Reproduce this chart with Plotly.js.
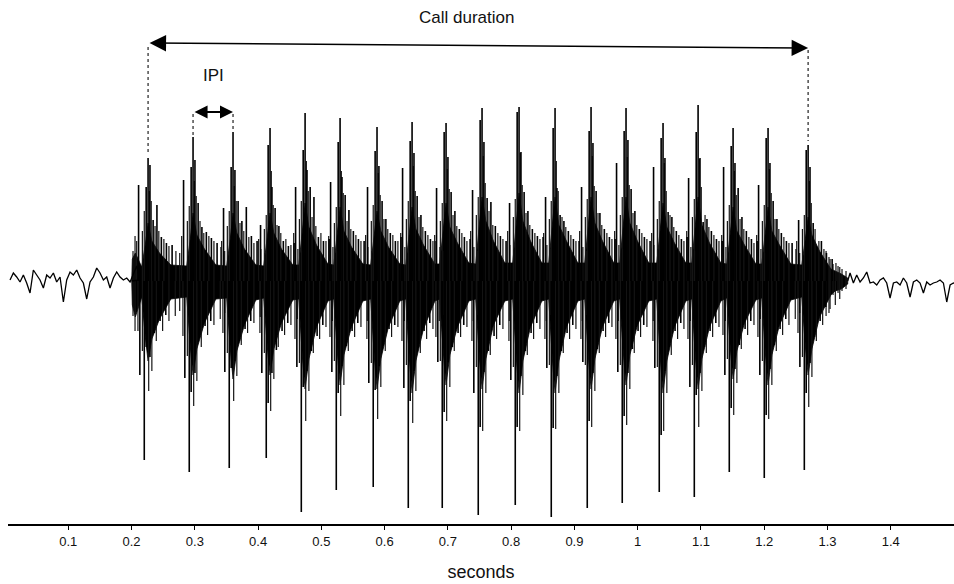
<!DOCTYPE html>
<html>
<head>
<meta charset="utf-8">
<script src="https://cdn.plot.ly/plotly-3.0.1.min.js"></script>
<style>html,body{margin:0;padding:0;background:#fff;}#chart{width:954px;height:584px;}</style>
</head>
<body>
<div id="chart"></div>
<script>
// ---- data (time in seconds, amplitude in arbitrary units) ----
const tickVals = [0.1,0.2,0.3,0.4,0.5,0.6,0.7,0.8,0.9,1.0,1.1,1.2,1.3,1.4];
const tickText = ["0.1","0.2","0.3","0.4","0.5","0.6","0.7","0.8","0.9","1","1.1","1.2","1.3","1.4"];

// main pulse times (positive peak)
const pulseT = [0.2261,0.2972,0.3604,0.4189,0.4743,0.5296,0.5880,0.6434,0.6971,0.7540,
                0.8125,0.8694,0.9263,0.9816,1.0401,1.0955,1.1508,1.2061,1.2694];

// major spikes within each pulse: offsets in ms relative to pulse peak
const posOff = [-15,-3,0,3,8,14,21,29,38];
const posAmp = [
 [96,94,123,116,61,76,44,38,36],
 [101,114,144,121,78,54,49,43,38],
 [73,114,149,111,80,60,74,45,40],
 [56,136,153,94,73,55,40,35,38],
 [94,131,168,111,94,84,44,40,42],
 [99,139,163,104,86,71,50,42,40],
 [94,130,154,115,80,62,48,40,44],
 [113,140,159,128,85,66,50,42,40],
 [93,149,158,124,89,70,52,44,42],
 [91,161,173,139,83,79,55,45,40],
 [78,169,174,129,89,70,52,45,44],
 [84,153,173,93,66,60,50,42,40],
 [94,150,174,138,90,68,52,44,42],
 [118,150,173,141,92,70,52,44,40],
 [114,143,158,123,69,64,50,42,44],
 [103,149,176,123,59,62,50,42,40],
 [114,135,153,118,93,64,50,42,40],
 [96,143,153,118,80,62,48,40,38],
 [61,131,136,114,58,34,40,28,22]
];
const negOff = [-13,-6,-3,3,10,19,28];
const negAmp = [
 [-94,-179,-66,-76,-52,-40,-34],
 [-97,-191,-111,-92,-52,-45,-40],
 [-91,-187,-87,-80,-60,-48,-40],
 [-92,-177,-122,-92,-69,-50,-42],
 [-86,-231,-106,-90,-70,-55,-44],
 [-91,-209,-112,-85,-65,-50,-42],
 [-102,-206,-109,-85,-62,-48,-44],
 [-107,-227,-120,-90,-66,-50,-42],
 [-81,-227,-131,-81,-66,-52,-44],
 [-112,-234,-146,-91,-70,-55,-44],
 [-99,-224,-146,-95,-70,-52,-42],
 [-87,-236,-147,-95,-70,-52,-44],
 [-81,-227,-140,-92,-68,-50,-42],
 [-91,-222,-135,-92,-68,-50,-44],
 [-87,-211,-154,-90,-66,-50,-42],
 [-106,-216,-114,-92,-66,-50,-42],
 [-94,-191,-127,-88,-64,-48,-40],
 [-94,-197,-134,-88,-64,-48,-38],
 [-86,-189,-112,-82,-56,-40,-26]
];

// minor spikes within each pulse
const minorPosOff = [-18,-9,-6,2,5,11,17,25,33,44,50];
const minorPos = [
 [40,50,70,90,80,55,50,42,35,30,28],
 [45,60,75,100,85,60,48,45,40,34,30],
 [40,55,70,95,80,58,50,44,38,32,28],
 [42,52,66,110,76,56,48,42,36,32,30],
 [48,62,80,120,90,64,55,48,40,34,30],
 [45,58,74,110,88,60,52,46,40,34,30],
 [46,60,76,108,86,62,52,46,40,34,30],
 [48,62,80,115,90,64,54,46,40,34,30],
 [46,60,78,112,92,66,55,48,40,34,30],
 [50,66,84,125,98,70,56,48,42,36,32],
 [50,64,82,128,96,68,56,48,42,36,32],
 [48,62,80,120,90,64,54,46,40,34,30],
 [50,64,82,125,95,68,56,48,42,36,32],
 [50,66,84,124,96,68,56,48,42,36,32],
 [48,62,80,118,90,66,54,46,40,34,30],
 [50,64,82,122,94,66,54,46,40,34,30],
 [46,60,76,110,86,62,52,44,38,32,28],
 [46,60,76,112,88,62,52,44,38,32,28],
 [40,52,66,100,78,52,40,32,24,18,14]
];
const minorNegOff = [-16,-9,1,6,13,23,33,43,50];
const minorNeg = [
 [-50,-70,-110,-90,-60,-50,-40,-35,-30],
 [-55,-75,-125,-100,-66,-54,-44,-38,-32],
 [-52,-72,-120,-95,-64,-52,-42,-36,-30],
 [-52,-72,-130,-98,-66,-54,-44,-38,-32],
 [-58,-82,-140,-110,-72,-58,-46,-40,-34],
 [-56,-80,-135,-104,-70,-56,-46,-40,-34],
 [-58,-82,-138,-106,-70,-56,-46,-40,-34],
 [-60,-84,-142,-110,-72,-58,-48,-40,-34],
 [-56,-80,-140,-106,-70,-56,-46,-40,-34],
 [-60,-86,-150,-112,-74,-58,-48,-40,-34],
 [-60,-86,-150,-114,-74,-58,-48,-40,-34],
 [-58,-84,-148,-112,-72,-58,-48,-40,-34],
 [-58,-84,-146,-110,-72,-56,-46,-40,-34],
 [-58,-84,-144,-108,-72,-56,-46,-40,-34],
 [-60,-86,-150,-112,-74,-58,-48,-40,-34],
 [-58,-84,-146,-110,-72,-56,-46,-40,-34],
 [-54,-78,-134,-102,-68,-54,-44,-38,-32],
 [-56,-80,-138,-104,-70,-54,-44,-38,-32],
 [-52,-76,-126,-96,-60,-44,-32,-24,-18]
];

// dense core envelope of each pulse (offsets in ms)
const envOff = [-10,-4,0,6,18,36];
const envHi = [
 [14,38,58,40,28,16],[15,44,68,46,32,16],[15,44,68,48,32,16],[15,46,68,48,32,16],
 [16,52,78,54,36,17],[16,50,74,50,34,17],[16,48,70,50,34,17],[16,50,74,52,36,17],
 [17,54,78,54,38,18],[17,58,84,60,40,18],[18,60,88,60,40,18],[18,58,84,56,40,18],
 [18,58,84,58,40,18],[18,58,84,58,40,18],[18,54,78,54,38,18],[18,58,84,56,38,18],
 [17,50,74,50,36,17],[17,50,74,50,36,17],[16,44,64,46,30,12]
];
const envLo = [
 [-16,-58,-80,-58,-38,-18],[-16,-68,-94,-68,-42,-18],[-17,-70,-98,-70,-44,-19],[-17,-68,-94,-68,-42,-19],
 [-18,-78,-108,-78,-46,-20],[-18,-74,-104,-74,-46,-20],[-18,-78,-108,-78,-46,-20],[-18,-80,-112,-80,-48,-20],
 [-18,-74,-104,-74,-46,-20],[-18,-78,-108,-78,-44,-20],[-18,-80,-112,-80,-46,-20],[-18,-80,-112,-80,-46,-20],
 [-18,-78,-108,-78,-46,-20],[-18,-74,-104,-74,-44,-20],[-18,-80,-112,-80,-46,-20],[-18,-78,-108,-78,-46,-20],
 [-17,-70,-98,-70,-42,-19],[-17,-74,-104,-74,-44,-19],[-16,-68,-94,-68,-36,-14]
];

// call onset and decay (absolute times)
const onsetT  = [0.2003,0.2012,0.2060];
const onsetHi = [0,22,28];
const onsetLo = [0,-24,-36];
const tailT   = [1.3120,1.3220,1.3320];
const tailHi  = [10,7,3];
const tailLo  = [-10,-8,-3];

// extra spikes at call onset and in the decay
const extraT = [0.2023,0.2023,0.2055,0.2055,1.2978,1.2978,1.3041,1.3041,1.3088,1.3088,1.3167,1.3167,1.3230,1.3230,1.3293,1.3293];
const extraA = [30,-35,45,-50,30,-35,22,-28,17,-14,15,-12,12,-10,10,-8];

// background noise before and after the call
const preStart = 0.0079, noiseStep = 0.00527;
const preNoise = [1,8,4,-1,6,-2,-12,11,6,1,-7,6,3,8,-1,4,-21,1,9,6,11,3,-2,-18,-1,4,13,8,1,4,-7,3,9,4,1,3,-1,8,15,1];
const postStart = 1.3357;
const postNoise = [8,-2,6,-1,3,9,-2,-1,-4,1,3,-2,-17,-2,-1,-4,3,-2,-16,-1,1,-2,-12,-1,-4,-2,-1,1,-2,-21,-4,-2,-4];

// ---- build traces ----
const ms = 0.001;
const upX = [], upY = [], loX = [], loY = [];
onsetT.forEach((t,i)=>{upX.push(t);upY.push(onsetHi[i]);loX.push(t);loY.push(onsetLo[i]);});
pulseT.forEach((T,p)=>{
  envOff.forEach((o,i)=>{
    upX.push(T+o*ms); upY.push(envHi[p][i]);
    loX.push(T+o*ms); loY.push(envLo[p][i]);
  });
});
tailT.forEach((t,i)=>{upX.push(t);upY.push(tailHi[i]);loX.push(t);loY.push(tailLo[i]);});
const coreX = upX.concat(loX.slice().reverse());
const coreY = upY.concat(loY.slice().reverse());

function spikes(list){ const x=[], y=[]; list.forEach(([t,a])=>{x.push(t,t,null); y.push(0,a,null);}); return {x,y}; }
const majorList = [], minorList = [];
pulseT.forEach((T,p)=>{
  posOff.forEach((o,i)=>majorList.push([T+o*ms,posAmp[p][i]]));
  negOff.forEach((o,i)=>majorList.push([T+o*ms,negAmp[p][i]]));
  minorPosOff.forEach((o,i)=>minorList.push([T+o*ms,minorPos[p][i]]));
  minorNegOff.forEach((o,i)=>minorList.push([T+o*ms,minorNeg[p][i]]));
});
extraT.forEach((t,i)=>minorList.push([t,extraA[i]]));
const major = spikes(majorList), minor = spikes(minorList);

const preX = preNoise.map((v,i)=>preStart+i*noiseStep);
const postX = postNoise.map((v,i)=>postStart+i*noiseStep);

const traces = [
  {x:coreX,y:coreY,type:'scatter',mode:'lines',fill:'toself',fillcolor:'#000',line:{color:'#000',width:0.8},hoverinfo:'skip'},
  {x:minor.x,y:minor.y,type:'scatter',mode:'lines',line:{color:'#151515',width:1.2},hoverinfo:'skip'},
  {x:major.x,y:major.y,type:'scatter',mode:'lines',line:{color:'#000',width:1.6},hoverinfo:'skip'},
  {x:preX.concat([onsetT[0]]),y:preNoise.concat([0]),type:'scatter',mode:'lines',line:{color:'#000',width:1.3},hoverinfo:'skip'},
  {x:[tailT[2]].concat(postX),y:[0].concat(postNoise),type:'scatter',mode:'lines',line:{color:'#000',width:1.3},hoverinfo:'skip'}
];

const tStart = pulseT[0], tEnd = pulseT[pulseT.length-1];
const font = {family:'Liberation Sans, Arial, sans-serif', color:'#111'};

const layout = {
  width:954, height:584,
  margin:{l:8,r:0,t:0,b:60},
  paper_bgcolor:'#fff', plot_bgcolor:'#fff',
  showlegend:false,
  xaxis:{
    range:[0.0047,1.5], showgrid:false, zeroline:false,
    showline:true, linecolor:'#000', linewidth:2,
    ticks:'outside', ticklen:4, tickwidth:1, tickcolor:'#000',
    tickvals:tickVals, ticktext:tickText,
    tickfont:Object.assign({size:13},font),
    title:{text:'seconds', font:Object.assign({size:18},font), standoff:18}
  },
  yaxis:{range:[-243,281], visible:false, showgrid:false, zeroline:false, fixedrange:true},
  annotations:[
    {x:0.730, y:264, xref:'x', yref:'y', text:'Call duration', showarrow:false, font:Object.assign({size:17},font)},
    {x:0.329, y:206, xref:'x', yref:'y', text:'IPI', showarrow:false, font:Object.assign({size:17},font)},
    {x:tEnd, y:233, ax:tStart, ay:238, xref:'x', yref:'y', axref:'x', ayref:'y', text:'',
     showarrow:true, arrowside:'end+start', arrowhead:2, arrowsize:2.2, arrowwidth:1.5, arrowcolor:'#000', standoff:0, startstandoff:0},
    {x:pulseT[2], y:169, ax:pulseT[1], ay:169, xref:'x', yref:'y', axref:'x', ayref:'y', text:'',
     showarrow:true, arrowside:'end+start', arrowhead:2, arrowsize:1.3, arrowwidth:2, arrowcolor:'#000', standoff:0, startstandoff:0}
  ],
  shapes:[
    {type:'line', xref:'x', yref:'y', x0:tStart, x1:tStart, y0:234, y1:128, line:{color:'#222',width:1.2,dash:'dot'}},
    {type:'line', xref:'x', yref:'y', x0:tEnd, x1:tEnd, y0:231, y1:140, line:{color:'#222',width:1.2,dash:'dot'}},
    {type:'line', xref:'x', yref:'y', x0:pulseT[1], x1:pulseT[1], y0:167, y1:146, line:{color:'#222',width:1.2,dash:'dot'}},
    {type:'line', xref:'x', yref:'y', x0:pulseT[2], x1:pulseT[2], y0:167, y1:152, line:{color:'#222',width:1.2,dash:'dot'}}
  ]
};

Plotly.newPlot('chart', traces, layout, {displayModeBar:false, staticPlot:true});
</script>
</body>
</html>
